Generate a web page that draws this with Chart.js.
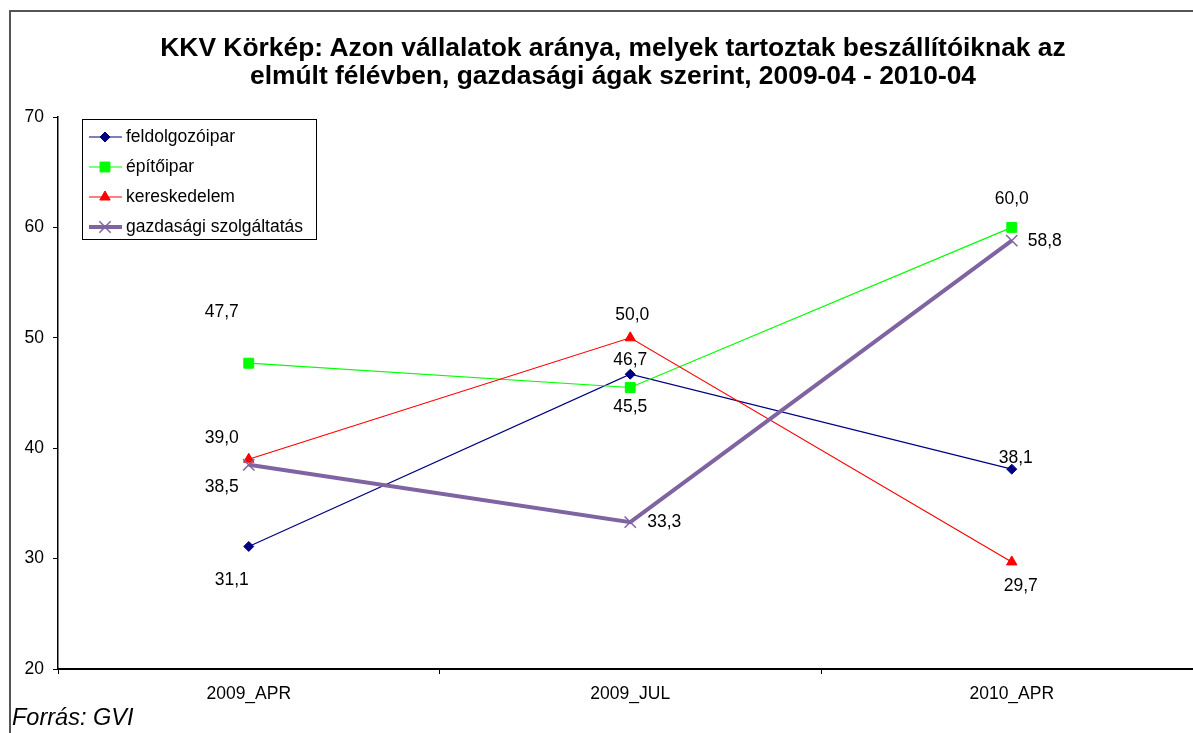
<!DOCTYPE html>
<html lang="hu">
<head>
    <meta charset="UTF-8">
    <title>KKV Körkép</title>
    <script src="https://cdn.jsdelivr.net/npm/chart.js"></script>
    <style>
        body {
            margin: 0;
            width: 1193px;
            height: 733px;
            overflow: hidden;
            background: #fff;
            font-family: "Liberation Sans", Arial, sans-serif;
        }
        .frame {
            position: absolute;
            left: 9px;
            top: 10px;
            width: 1300px;
            height: 800px;
            border: 2px solid #555;
            box-sizing: border-box;
        }
        .chart-title {
            position: absolute;
            left: 0;
            top: 33px;
            width: 1226px;
            text-align: center;
            font-weight: bold;
            font-size: 26.4px;
            line-height: 28px;
            color: #000;
        }
        .source {
            position: absolute;
            left: 12px;
            top: 705px;
            font-style: italic;
            font-size: 23.5px;
            line-height: 24px;
            color: #000;
        }
        .chart-wrap {
            position: absolute;
            left: 0;
            top: 0;
            width: 1212px;
            height: 733px;
        }
        #kkvChart {
            width: 1212px;
            height: 733px;
        }
    </style>
</head>
<body>

<div class="frame"></div>
<div class="chart-wrap">
    <canvas id="kkvChart" width="1212" height="733"></canvas>
</div>
<div class="chart-title">KKV Körkép: Azon vállalatok aránya, melyek tartoztak beszállítóiknak az<br>elmúlt félévben, gazdasági ágak szerint, 2009-04 - 2010-04</div>
<div class="source">Forrás: GVI</div>

<script>
const categories = ['2009_APR', '2009_JUL', '2010_APR'];
const seriesNames = ['feldolgozóipar', 'építőipar', 'kereskedelem', 'gazdasági szolgáltatás'];
const feldolgozoipar = [31.1, 46.7, 38.1];
const epitoipar = [47.7, 45.5, 60.0];
const kereskedelem = [39.0, 50.0, 29.7];
const gazdSzolg = [38.5, 33.3, 58.8];
const yTicks = [20, 30, 40, 50, 60, 70];

// where each value label sits relative to its point (dx, dy)
const labelOffsets = [
    [[-17, 34], [0, -14], [4, -11]],
    [[-27, -51], [0, 20], [0, -28]],
    [[-27, -21], [2, -23], [9, 24]],
    [[-27, 22], [34, 0], [33, 1]]
];

const FONT = '"Liberation Sans", Arial, sans-serif';

const valueLabels = {
    id: 'valueLabels',
    afterDatasetsDraw(chart) {
        const ctx = chart.ctx;
        ctx.save();
        ctx.font = '17.5px ' + FONT;
        ctx.fillStyle = '#000';
        ctx.textAlign = 'center';
        ctx.textBaseline = 'middle';
        chart.data.datasets.forEach((ds, i) => {
            const meta = chart.getDatasetMeta(i);
            meta.data.forEach((pt, j) => {
                const off = labelOffsets[i][j];
                const txt = ds.data[j].toFixed(1).replace('.', ',');
                ctx.fillText(txt, pt.x + off[0], pt.y + off[1]);
            });
        });
        ctx.restore();
    }
};

const boxLegend = {
    id: 'boxLegend',
    afterDraw(chart) {
        const ctx = chart.ctx;
        const left = 82, top = 119, w = 234, h = 120;
        ctx.save();
        ctx.fillStyle = '#fff';
        ctx.fillRect(left, top, w, h);
        ctx.strokeStyle = '#000';
        ctx.lineWidth = 1;
        ctx.strokeRect(left + 0.5, top + 0.5, w, h);
        ctx.font = '17.5px ' + FONT;
        ctx.textBaseline = 'middle';
        ctx.textAlign = 'left';
        chart.data.datasets.forEach((ds, i) => {
            const y = 137 + i * 30;
            ctx.strokeStyle = ds.borderColor;
            ctx.lineWidth = ds.borderWidth;
            ctx.beginPath();
            ctx.moveTo(89, y);
            ctx.lineTo(122, y);
            ctx.stroke();
            ctx.fillStyle = ds.pointBackgroundColor;
            ctx.strokeStyle = ds.pointBorderColor;
            ctx.lineWidth = ds.pointBorderWidth;
            Chart.helpers.drawPoint(ctx, {
                pointStyle: ds.pointStyle,
                radius: ds.pointRadius,
                borderWidth: ds.pointBorderWidth,
                rotation: 0
            }, 105, y);
            ctx.fillStyle = '#000';
            ctx.fillText(ds.label, 126, y);
        });
        ctx.restore();
    }
};

function lineSet(label, data, color, style, radius, width, order) {
    return {
        label: label,
        data: data,
        borderColor: color,
        backgroundColor: color,
        borderWidth: width,
        pointStyle: style,
        pointRadius: radius,
        pointHoverRadius: radius,
        pointBackgroundColor: color,
        pointBorderColor: color,
        pointBorderWidth: style === 'crossRot' ? 1.5 : 1,
        tension: 0,
        fill: false,
        order: order
    };
}

new Chart(document.getElementById('kkvChart'), {
    type: 'line',
    data: {
        labels: categories,
        datasets: [
            lineSet(seriesNames[0], feldolgozoipar, '#000080', 'rectRot', 5, 1.2, 3),
            lineSet(seriesNames[1], epitoipar, '#00FF00', 'rect', 7, 1.2, 2),
            lineSet(seriesNames[2], kereskedelem, '#FF0000', 'triangle', 6, 1.2, 1),
            lineSet(seriesNames[3], gazdSzolg, '#8064A2', 'crossRot', 8, 4, 0)
        ]
    },
    options: {
        responsive: false,
        animation: false,
        layout: {
            padding: { top: 117, right: 2, bottom: 0, left: 0 }
        },
        plugins: {
            legend: { display: false },
            title: { display: false },
            tooltip: { enabled: false }
        },
        scales: {
            x: {
                offset: true,
                grid: {
                    display: true,
                    offset: true,
                    drawOnChartArea: false,
                    drawTicks: true,
                    tickLength: 5,
                    color: '#000'
                },
                border: { color: '#000', width: 2 },
                ticks: {
                    color: '#000',
                    font: { family: FONT, size: 17.5 },
                    padding: 10,
                    maxRotation: 0
                },
                afterFit(scale) { scale.height = 64; }
            },
            y: {
                min: 20,
                max: 70,
                afterBuildTicks(scale) {
                    scale.ticks = yTicks.map(v => ({ value: v }));
                },
                grid: {
                    display: true,
                    drawOnChartArea: false,
                    drawTicks: true,
                    tickLength: 5,
                    color: '#000'
                },
                border: { color: '#000', width: 1.5 },
                ticks: {
                    color: '#000',
                    font: { family: FONT, size: 17.5 },
                    padding: 9
                },
                afterFit(scale) { scale.width = 58; }
            }
        }
    },
    plugins: [valueLabels, boxLegend]
});
</script>

</body>
</html>
